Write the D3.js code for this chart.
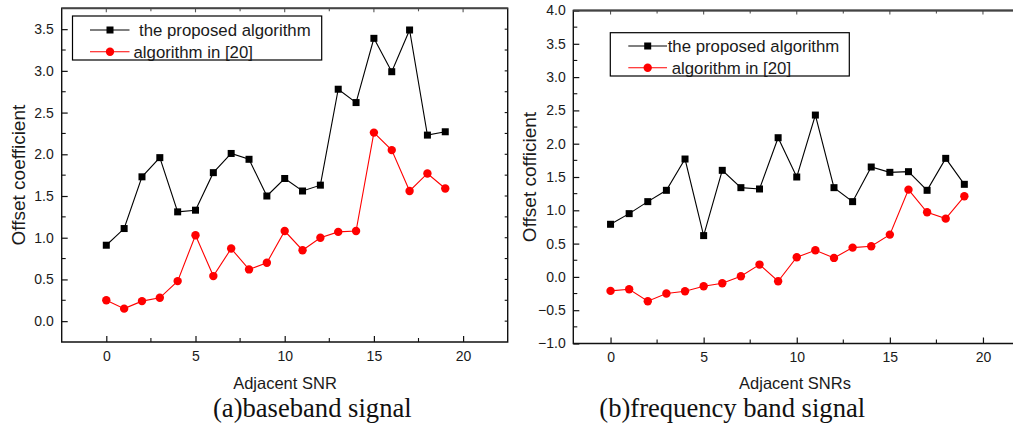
<!DOCTYPE html>
<html>
<head>
<meta charset="utf-8">
<script src="https://cdn.jsdelivr.net/npm/d3@7"></script>
<style>
  html, body { margin: 0; padding: 0; background: #fff; }
  svg { display: block; }
  text { font-family: "Liberation Sans", Arial, sans-serif; fill: #1a1a1a; }
  .caption { font-family: "Liberation Serif", "Times New Roman", serif; fill: #111; }
</style>
</head>
<body>
<svg id="chart" width="1013" height="427"></svg>
<script>
// Adjacent SNR index on the horizontal axis
const snr = [0, 1, 2, 3, 4, 5, 6, 7, 8, 9, 10, 11, 12, 13, 14, 15, 16, 17, 18, 19];

// (a) baseband signal
const baseProposed = [0.91, 1.11, 1.73, 1.96, 1.31, 1.33, 1.78, 2.01, 1.94, 1.50,
                      1.71, 1.56, 1.63, 2.78, 2.62, 3.39, 2.99, 3.49, 2.23, 2.27];
const baseRef      = [0.25, 0.15, 0.24, 0.28, 0.48, 1.03, 0.54, 0.87, 0.62, 0.70,
                      1.08, 0.85, 1.00, 1.07, 1.08, 2.26, 2.05, 1.56, 1.77, 1.59];

// (b) frequency band signal
const freqProposed = [0.79, 0.95, 1.13, 1.30, 1.77, 0.62, 1.60, 1.34, 1.32, 2.09,
                      1.50, 2.43, 1.34, 1.13, 1.65, 1.57, 1.58, 1.30, 1.78, 1.39];
const freqRef      = [-0.21, -0.185, -0.365, -0.25, -0.215, -0.14, -0.095, 0.01, 0.185, -0.065,
                      0.295, 0.40, 0.285, 0.44, 0.46, 0.635, 1.31, 0.97, 0.875, 1.21];

// Tick values
const xMajorTicks = [0, 5, 10, 15, 20];
const xMinorTicks = [-2.5, 2.5, 7.5, 12.5, 17.5, 22.5];
const baseYTicks = [0.0, 0.5, 1.0, 1.5, 2.0, 2.5, 3.0, 3.5];
const freqYTicks = [-1.0, -0.5, 0.0, 0.5, 1.0, 1.5, 2.0, 2.5, 3.0, 3.5, 4.0];

const seriesNames = ["the proposed algorithm", "algorithm in [20]"];

const svg = d3.select("#chart");
const fmt = d3.format(".1f");

function drawPanel(cfg) {
  const x = d3.scaleLinear().domain(cfg.xDomain).range(cfg.xRange);
  const y = d3.scaleLinear().domain(cfg.yDomain).range(cfg.yRange);
  const g = svg.append("g");

  const [x0, x1] = cfg.xRange;
  const [y0, y1] = cfg.yRange; // y0 bottom, y1 top

  // Minor y ticks (every 0.25)
  const yMinor = [];
  for (let v = cfg.yDomain[0]; v <= cfg.yDomain[1] + 1e-9; v += 0.25) {
    if (Math.abs(v * 2 - Math.round(v * 2)) > 1e-6) yMinor.push(v);
  }

  // Bottom axis with inward ticks
  const bottom = d3.axisBottom(x).tickValues(xMajorTicks).tickSizeInner(-6).tickSizeOuter(0)
    .tickPadding(9).tickFormat(d3.format("d"));
  const gb = g.append("g").attr("transform", `translate(0,${y0})`).call(bottom);
  gb.select(".domain").remove();
  gb.selectAll("line").attr("stroke", "#111").attr("stroke-width", 1.2);
  gb.selectAll("text").style("font-size", "14px").attr("fill", "#1a1a1a");
  g.selectAll(".xminB").data(xMinorTicks.filter(v => x(v) > x0 + 1 && x(v) < x1 - 1)).join("line")
    .attr("x1", d => x(d)).attr("x2", d => x(d)).attr("y1", y0).attr("y2", y0 - 4)
    .attr("stroke", "#111").attr("stroke-width", 1.1);

  // Top mirrored ticks
  g.selectAll(".xTop").data(xMajorTicks.concat(xMinorTicks).filter(v => x(v) > x0 + 1 && x(v) < x1 - 1)).join("line")
    .attr("x1", d => x(d)).attr("x2", d => x(d)).attr("y1", y1).attr("y2", d => y1 + (xMajorTicks.includes(d) ? 4 : 3))
    .attr("stroke", "#555").attr("stroke-width", 1.1);

  // Left axis with inward ticks
  const left = d3.axisLeft(y).tickValues(cfg.yTicks).tickSizeInner(-6).tickSizeOuter(0)
    .tickPadding(cfg.yPad).tickFormat(fmt);
  const gl = g.append("g").attr("transform", `translate(${x0},0)`).call(left);
  gl.select(".domain").remove();
  gl.selectAll("line").attr("stroke", "#111").attr("stroke-width", 1.2);
  gl.selectAll("text").style("font-size", "14px").attr("fill", "#1a1a1a");
  g.selectAll(".yminL").data(yMinor.filter(v => y(v) < y0 - 1 && y(v) > y1 + 1)).join("line")
    .attr("x1", x0).attr("x2", x0 + 4).attr("y1", d => y(d)).attr("y2", d => y(d))
    .attr("stroke", "#111").attr("stroke-width", 1.1);

  // Right mirrored ticks
  g.selectAll(".yR").data(cfg.yTicks.concat(yMinor).filter(v => y(v) < y0 - 1 && y(v) > y1 + 1)).join("line")
    .attr("x1", x1).attr("x2", x1 - 3).attr("y1", d => y(d)).attr("y2", d => y(d))
    .attr("stroke", "#111").attr("stroke-width", 1.1);

  // Frame
  g.append("path")
    .attr("d", `M${x0},${y1}H${x1}V${y0}H${x0}Z`)
    .attr("fill", "none").attr("stroke", "#111").attr("stroke-width", 1.4);
  g.append("line").attr("x1", x0).attr("x2", x1).attr("y1", y1).attr("y2", y1)
    .attr("stroke", "#444").attr("stroke-width", 1.8);

  // Series lines
  const line = d3.line().x((d, i) => x(snr[i])).y(d => y(d));
  g.append("path").datum(cfg.ref).attr("d", line)
    .attr("fill", "none").attr("stroke", "#ff0000").attr("stroke-width", 1.1);
  g.append("path").datum(cfg.proposed).attr("d", line)
    .attr("fill", "none").attr("stroke", "#000").attr("stroke-width", 1.1);

  // Markers
  g.selectAll(".mref").data(cfg.ref).join("circle")
    .attr("cx", (d, i) => x(snr[i])).attr("cy", d => y(d)).attr("r", 4.2)
    .attr("fill", "#ff0000");
  const s = 7;
  g.selectAll(".mprop").data(cfg.proposed).join("rect")
    .attr("x", (d, i) => x(snr[i]) - s / 2).attr("y", d => y(d) - s / 2)
    .attr("width", s).attr("height", s).attr("fill", "#000");

  // Legend
  const L = cfg.legend;
  g.append("rect").attr("x", L.box[0]).attr("y", L.box[1])
    .attr("width", L.box[2] - L.box[0]).attr("height", L.box[3] - L.box[1])
    .attr("fill", "#fff").attr("stroke", "#000").attr("stroke-width", 1.2);
  const rows = [
    { name: seriesNames[0], color: "#000", shape: "rect", y: L.rows[0], tx: L.textX[0] },
    { name: seriesNames[1], color: "#ff0000", shape: "circle", y: L.rows[1], tx: L.textX[1] }
  ];
  rows.forEach(r => {
    g.append("line").attr("x1", L.lineX[0]).attr("x2", L.lineX[1]).attr("y1", r.y).attr("y2", r.y)
      .attr("stroke", r.color).attr("stroke-width", 1.1);
    if (r.shape === "rect") {
      g.append("rect").attr("x", L.markX - 3.5).attr("y", r.y - 3.5).attr("width", 7).attr("height", 7).attr("fill", "#000");
    } else {
      g.append("circle").attr("cx", L.markX).attr("cy", r.y).attr("r", 4.2).attr("fill", "#ff0000");
    }
    g.append("text").attr("x", r.tx).attr("y", r.y).attr("dy", "0.36em")
      .style("font-size", "16.8px").text(r.name);
  });

  // Axis titles
  g.append("text").attr("transform", `translate(${cfg.yTitleX},${(y0 + y1) / 2}) rotate(-90)`)
    .attr("text-anchor", "middle").attr("dy", "0.35em").style("font-size", "19px").text(cfg.yTitle);
  g.append("text").attr("x", cfg.xTitleX).attr("y", 388.5)
    .attr("text-anchor", "middle").style("font-size", "16.5px").text(cfg.xTitle);

  // Panel caption
  g.append("text").attr("class", "caption").attr("x", cfg.captionX).attr("y", 416.5)
    .style("font-size", "26.6px").text(cfg.caption);
}

drawPanel({
  xDomain: [-2.5, 22.5], xRange: [61.7, 507.7],
  yDomain: [-0.25, 3.75], yRange: [342, 8.3],
  yTicks: baseYTicks, yPad: 8,
  proposed: baseProposed, ref: baseRef,
  legend: { box: [72.5, 16, 321.7, 60], rows: [30, 51.7], lineX: [90, 129.5], markX: 110, textX: [139, 133.5] },
  yTitle: "Offset coefficient", yTitleX: 18.3,
  xTitle: "Adjacent SNR", xTitleX: 285,
  caption: "(a)baseband signal", captionX: 213
});

drawPanel({
  xDomain: [-2, 22], xRange: [573.3, 1020.2],
  yDomain: [-1, 4], yRange: [343.5, 10.5],
  yTicks: freqYTicks, yPad: 7.6,
  proposed: freqProposed, ref: freqRef,
  legend: { box: [610.3, 32.7, 849.3, 76], rows: [46, 67.7], lineX: [628.3, 667], markX: 647.7, textX: [667.7, 671.7] },
  yTitle: "Offset cofficient", yTitleX: 529.3,
  xTitle: "Adjacent SNRs", xTitleX: 795,
  caption: "(b)frequency band signal", captionX: 599.3
});
</script>
</body>
</html>
